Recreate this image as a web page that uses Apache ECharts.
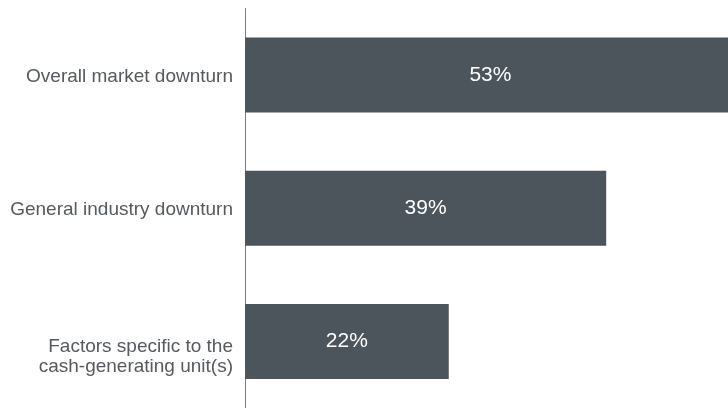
<!DOCTYPE html>
<html>
<head>
<meta charset="utf-8">
<script src="https://cdn.jsdelivr.net/npm/echarts@6/dist/echarts.min.js"></script>
<style>
html,body{margin:0;padding:0;background:#fff;}
#chart{width:728px;height:408px;}
</style>
</head>
<body>
<div id="chart"></div>
<script>
var categories = ["Overall market downturn", "General industry downturn", "Factors specific to the\ncash-generating unit(s)"];
var values = [53, 39, 22];

var FONT = '"Helvetica Neue", Helvetica, "Liberation Sans", Arial, sans-serif';

var chart = echarts.init(document.getElementById('chart'), null, {renderer: 'canvas'});
chart.setOption({
  animation: false,
  backgroundColor: '#ffffff',
  grid: {left: 245, right: 0, top: 8.5, bottom: -2.5, containLabel: false},
  xAxis: {
    type: 'value', min: 0, max: 52.15,
    show: false
  },
  yAxis: {
    type: 'category',
    data: categories,
    inverse: true,
    axisLine: {show: true, lineStyle: {color: '#7a7e82', width: 1}},
    axisTick: {show: false},
    axisLabel: {
      margin: 12,
      color: '#555a5f',
      fontFamily: FONT,
      fontSize: 19,
      lineHeight: 20,
      align: 'right',
      formatter: function (v) {
        var lines = v.split('\n');
        var gap = lines.length > 1 ? '{g2| }' : '{g1| }';
        return gap + '\n' + lines.map(function (l) { return '{t|' + l + '}'; }).join('\n');
      },
      rich: {
        g1: {fontSize: 4, lineHeight: 4},
        g2: {fontSize: 4, lineHeight: 30},
        t: {fontSize: 19, lineHeight: 20, color: '#555a5f', fontFamily: FONT}
      }
    }
  },
  series: [{
    type: 'bar',
    data: values,
    barWidth: 75,
    clip: false,
    itemStyle: {color: '#4d555c'},
    label: {
      show: true,
      position: 'inside',
      color: '#ffffff',
      fontFamily: FONT,
      fontSize: 21,
      formatter: function (p) { return p.value + '%'; }
    }
  }]
});
</script>
</body>
</html>
